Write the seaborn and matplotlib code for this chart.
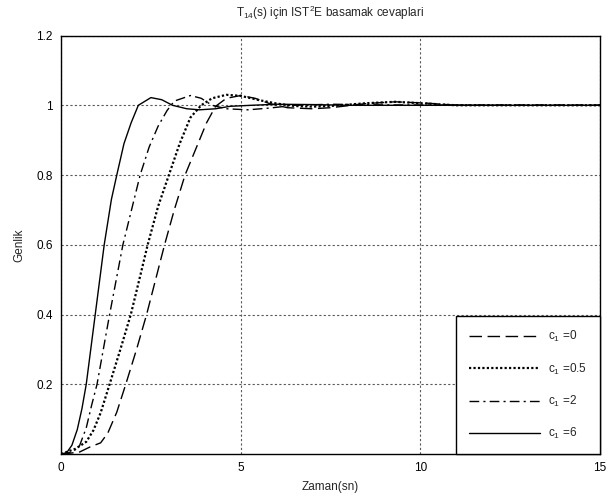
import numpy as np
import pandas as pd
import seaborn as sns
import matplotlib
matplotlib.use('Agg')
import matplotlib.pyplot as plt

# Basamak cevaplari (okunan degerler)
t_c0 = [0, 0.5, 0.8, 1.1, 1.3, 1.55, 1.8, 2.1, 2.38, 2.63, 2.88, 3.15, 3.45, 3.75,
        4.05, 4.3, 4.6, 5.0, 5.4, 5.8, 6.3, 7.0, 7.5, 8.5, 9.3, 10.2, 11, 15]
y_c0 = [0, 0.005, 0.02, 0.032, 0.06, 0.12, 0.2, 0.3, 0.4, 0.5, 0.6, 0.7, 0.8, 0.875,
        0.95, 0.997, 1.02, 1.028, 1.02, 1.005, 0.993, 0.99, 0.993, 1.005, 1.01, 1.006, 1.0, 1.0]

t_c05 = [0, 0.4, 0.7, 0.9, 1.1, 1.35, 1.65, 1.94, 2.2, 2.41, 2.7, 3.0, 3.3, 3.6,
         3.9, 4.2, 4.6, 5.0, 5.5, 6.0, 6.5, 7.0, 7.5, 8.5, 9.3, 10, 11, 15]
y_c05 = [0, 0.015, 0.035, 0.068, 0.118, 0.2, 0.3, 0.4, 0.51, 0.6, 0.71, 0.8, 0.89, 0.965,
         1.0, 1.02, 1.03, 1.027, 1.015, 1.005, 0.998, 0.996, 0.998, 1.006, 1.01, 1.006, 1.0, 1.0]

t_c2 = [0, 0.3, 0.5, 0.7, 0.85, 1.0, 1.35, 1.72, 2.2, 2.45, 2.7, 2.95, 3.15, 3.6,
        3.9, 4.2, 4.6, 5.2, 5.8, 6.5, 7.5, 9, 15]
y_c2 = [0, 0.005, 0.02, 0.075, 0.14, 0.2, 0.4, 0.6, 0.8, 0.88, 0.94, 0.985, 1.012, 1.028,
        1.02, 1.0, 0.99, 0.987, 0.992, 1.0, 1.003, 1.001, 1.0]

t_c6 = [0, 0.15, 0.3, 0.45, 0.58, 0.7, 0.95, 1.2, 1.4, 1.55, 1.75, 1.95, 2.15, 2.5,
        2.8, 3.1, 3.5, 3.85, 4.3, 4.7, 5.3, 6, 7, 8, 15]
y_c6 = [0, 0.003, 0.025, 0.07, 0.13, 0.2, 0.4, 0.6, 0.73, 0.8, 0.89, 0.95, 1.0, 1.022,
        1.016, 1.0, 0.99, 0.987, 0.99, 0.997, 1.0, 1.003, 1.002, 1.0, 1.0]

etiketler = [r'c$_1$ =0', r'c$_1$ =0.5', r'c$_1$ =2', r'c$_1$ =6']
stiller = [(0, (9, 4)), (0, (1, 1)), (0, (7, 3, 1.5, 3)), '-']
kalinlik = [1.0, 1.6, 1.0, 1.0]

xticks = [0, 5, 10, 15]
yticks = [0.2, 0.4, 0.6, 0.8, 1.0, 1.2]
ytick_labels = ['0.2', '0.4', '0.6', '0.8', '1', '1.2']

sns.set_style('white')
plt.rcParams['font.family'] = ['Liberation Sans', 'DejaVu Sans']
plt.rcParams['mathtext.fontset'] = 'custom'
plt.rcParams['mathtext.rm'] = 'Liberation Sans'
plt.rcParams['mathtext.it'] = 'Liberation Sans'

fig = plt.figure(figsize=(6.11, 4.97), dpi=100)
ax = fig.add_axes([0.1, 0.0865, 0.882, 0.842])

veriler = [(t_c0, y_c0), (t_c05, y_c05), (t_c2, y_c2), (t_c6, y_c6)]
for (t, y), lab, ls, lw in zip(veriler, etiketler, stiller, kalinlik):
    df = pd.DataFrame({'t': t, 'y': y})
    sns.lineplot(data=df, x='t', y='y', ax=ax, color='k', linestyle=ls,
                 linewidth=lw, label=lab, sort=False)

ax.set_xlim(0, 15)
ax.set_ylim(0, 1.2)
ax.set_xticks(xticks)
ax.set_yticks(yticks)
ax.set_yticklabels(ytick_labels)
ax.tick_params(direction='in', length=4, labelsize=8.5, colors='k', pad=6)
ax.grid(True, color='0.35', linestyle=(0, (2, 2)), linewidth=0.8)
for s in ax.spines.values():
    s.set_color('k')
    s.set_linewidth(1.0)

ax.set_xlabel('Zaman(sn)', fontsize=8.5, labelpad=5)
ax.set_ylabel('Genlik', fontsize=8.5, labelpad=8)
ax.set_title(r'T$_{14}$(s) için IST$^2$E basamak cevaplari', fontsize=8.5, pad=13)

leg = ax.legend(loc='lower right', borderaxespad=0, fontsize=8.5, handlelength=6.0,
                labelspacing=1.45, borderpad=1.1, handletextpad=0.7, fancybox=False,
                framealpha=1, edgecolor='k')
leg.get_frame().set_linewidth(1.0)

fig.savefig('out.png', dpi=100)
